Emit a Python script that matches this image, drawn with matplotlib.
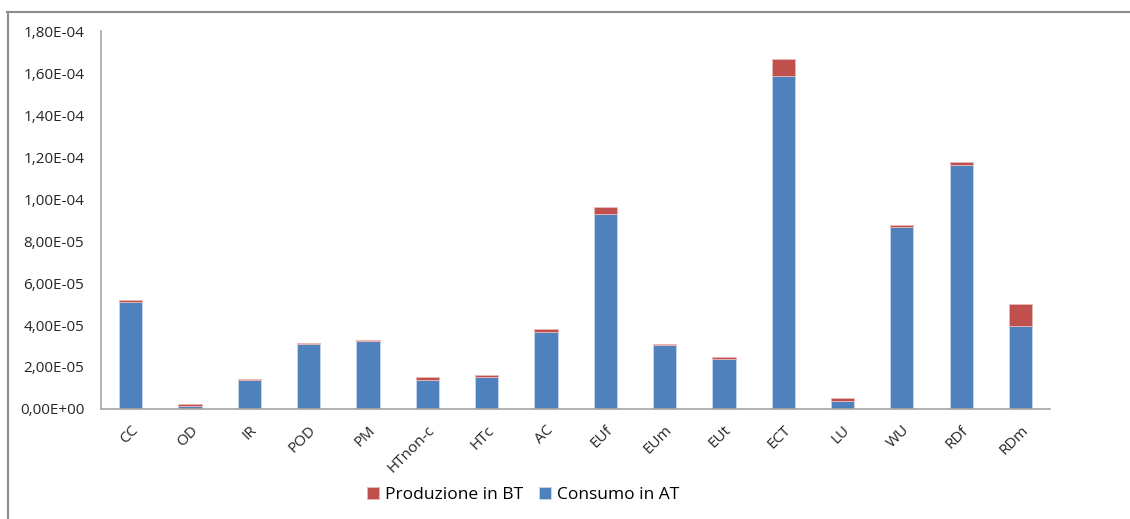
import numpy as np
import matplotlib.pyplot as plt
from matplotlib.lines import Line2D
from matplotlib.ticker import FuncFormatter

categories = ['CC', 'OD', 'IR', 'POD', 'PM', 'HTnon-c', 'HTc', 'AC',
              'EUf', 'EUm', 'EUt', 'ECT', 'LU', 'WU', 'RDf', 'RDm']
consumo_at = [5.08e-5, 1.6e-6, 1.37e-5, 3.08e-5, 3.22e-5, 1.40e-5, 1.54e-5, 3.67e-5,
              9.31e-5, 3.03e-5, 2.36e-5, 1.588e-4, 3.97e-6, 8.68e-5, 1.16e-4, 3.95e-5]
produzione_bt = [0.09e-5, 0.6e-6, 0.05e-5, 0.08e-5, 0.08e-5, 0.14e-5, 0.08e-5, 0.12e-5,
                 0.31e-5, 0.05e-5, 0.10e-5, 0.81e-5, 1.1e-6, 0.08e-5, 0.16e-5, 1.05e-5]

plt.rcParams['font.family'] = ['Open Sans', 'DejaVu Sans']

blue = '#4F81BD'
red = '#C0504D'

fig = plt.figure(figsize=(11.3, 5.19), dpi=100)
ax = fig.add_axes([0.0894, 0.212, 0.8400, 0.728])

x = np.arange(len(categories))
width = 0.39
b1 = ax.bar(x, consumo_at, width, color=blue, edgecolor='#C9D8EC', linewidth=0.6,
            label='Consumo in AT')
b2 = ax.bar(x, produzione_bt, width, bottom=consumo_at, color=red,
            edgecolor='#E8B9B8', linewidth=0.6, label='Produzione in BT')

ax.set_xlim(-0.5, len(categories) - 0.5)
ax.set_ylim(0, 1.8e-4)
ax.set_yticks(np.arange(0, 1.81e-4, 2e-5))
ax.yaxis.set_major_formatter(FuncFormatter(lambda v, p: f"{v:.2E}".replace('.', ',')))
ax.set_xticks(x)
ax.set_xticklabels(categories, rotation=45, ha='right', rotation_mode='anchor')
ax.tick_params(axis='both', length=0, labelsize=11, colors='#262626')
ax.tick_params(axis='x', pad=10)
ax.tick_params(axis='y', pad=12)

for s in ['top', 'right']:
    ax.spines[s].set_visible(False)
for s in ['left', 'bottom']:
    ax.spines[s].set_color('#A6A6A6')
    ax.spines[s].set_linewidth(1.2)

ax.legend([b2, b1], ['Produzione in BT', 'Consumo in AT'], loc='center',
          bbox_to_anchor=(523 / 1130, 24 / 519), bbox_transform=fig.transFigure,
          ncol=2, frameon=False, fontsize=12.5, handlelength=0.7, handleheight=0.7,
          handletextpad=0.35, columnspacing=0.9)

# outer chart border (top and left visible)
fig.add_artist(Line2D([7 / 1130, 1], [1 - 12 / 519, 1 - 12 / 519], color='#8C8C8C', lw=1.5))
fig.add_artist(Line2D([7.5 / 1130, 7.5 / 1130], [0, 1 - 12 / 519], color='#8C8C8C', lw=1.5))

fig.savefig('out.png', dpi=100)
